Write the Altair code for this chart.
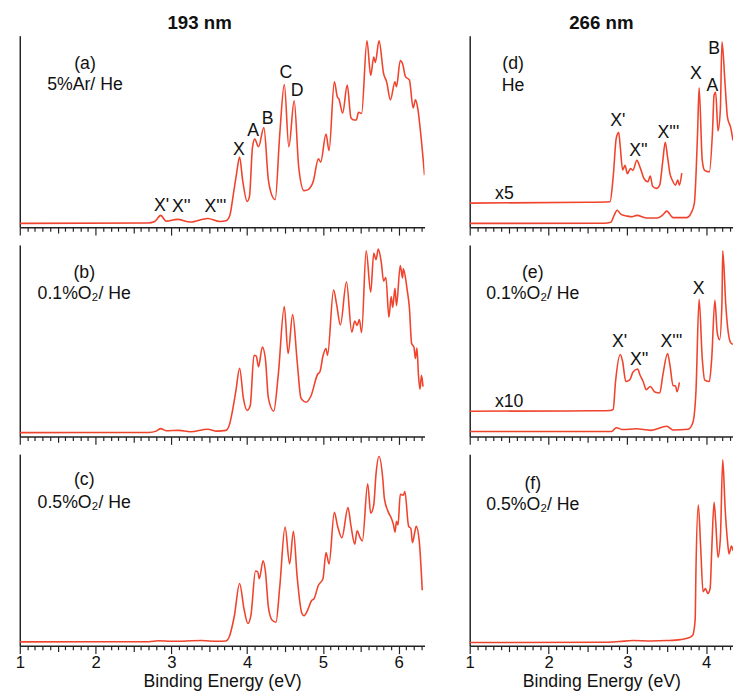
import altair as alt
import pandas as pd

# ---------------- data (binding energy eV, relative intensity) ----------------
# 193 nm
spec_a = [(1.00, 2.0), (2.69, 2.2), (2.78, 3.0), (2.86, 6.2), (2.93, 3.2), (3.08, 4.1), (3.25, 2.7),
          (3.48, 4.6), (3.64, 3.0), (3.72, 3.4), (3.77, 6.0), (3.82, 17.8), (3.86, 28.0), (3.90, 36.6),
          (3.94, 24.6), (4.00, 13.5), (4.03, 16.0), (4.07, 41.7), (4.10, 46.0), (4.15, 42.0), (4.22, 52.0),
          (4.28, 24.6), (4.31, 18.6), (4.37, 14.4), (4.43, 48.6), (4.49, 74.5), (4.55, 42.0), (4.62, 66.0),
          (4.68, 31.4), (4.75, 19.1), (4.81, 19.8), (4.87, 23.7), (4.94, 35.7), (4.97, 34.0), (5.04, 48.6),
          (5.08, 40.0), (5.15, 75.9), (5.19, 68.0), (5.21, 67.0), (5.26, 59.6), (5.32, 74.2), (5.37, 57.0),
          (5.41, 56.0), (5.44, 56.0), (5.47, 60.0), (5.51, 59.4), (5.58, 97.3), (5.63, 79.3), (5.67, 88.9),
          (5.69, 86.0), (5.74, 97.3), (5.80, 80.2), (5.84, 75.9), (5.89, 66.5), (5.95, 75.9), (5.97, 73.3),
          (6.02, 87.0), (6.05, 85.3), (6.09, 78.5), (6.14, 76.9), (6.19, 62.2), (6.22, 66.5), (6.25, 62.2),
          (6.29, 48.7), (6.34, 27.2)]
spec_b = [(1.00, 2.0), (2.70, 2.1), (2.80, 2.8), (2.86, 4.1), (2.93, 3.0), (3.10, 3.2), (3.25, 2.5),
          (3.48, 3.8), (3.60, 2.8), (3.72, 3.2), (3.76, 5.5), (3.85, 23.5), (3.90, 35.6), (3.95, 20.0),
          (4.00, 13.6), (4.04, 16.0), (4.09, 42.4), (4.12, 42.0), (4.15, 36.4), (4.20, 46.7), (4.24, 40.7),
          (4.28, 20.0), (4.35, 13.2), (4.41, 32.0), (4.49, 67.9), (4.54, 43.3), (4.60, 63.6), (4.66, 39.0),
          (4.71, 20.0), (4.78, 17.9), (4.84, 21.0), (4.93, 32.5), (4.96, 33.8), (5.00, 42.0), (5.04, 45.9),
          (5.06, 42.4), (5.14, 76.5), (5.18, 69.0), (5.23, 58.2), (5.31, 80.6), (5.38, 54.5), (5.42, 60.3),
          (5.45, 58.0), (5.48, 61.0), (5.51, 54.3), (5.57, 97.0), (5.63, 75.4), (5.67, 95.7), (5.70, 92.3),
          (5.73, 97.8), (5.77, 90.7), (5.80, 81.1), (5.83, 83.0), (5.87, 62.2), (5.90, 73.0), (5.92, 67.4),
          (5.95, 77.3), (5.97, 68.3), (6.02, 89.3), (6.05, 82.8), (6.06, 87.5), (6.11, 76.8), (6.14, 67.4),
          (6.17, 48.5), (6.20, 46.7), (6.22, 40.7), (6.24, 46.2), (6.26, 32.0), (6.28, 24.7), (6.30, 32.0),
          (6.32, 26.0)]
spec_c = [(1.00, 2.0), (2.70, 2.1), (2.83, 2.6), (3.00, 2.3), (3.40, 2.7), (3.60, 2.3), (3.72, 2.5),
          (3.76, 4.3), (3.83, 15.4), (3.90, 32.5), (3.96, 18.8), (4.01, 11.6), (4.05, 16.0), (4.11, 39.0),
          (4.14, 38.5), (4.16, 35.0), (4.21, 44.4), (4.24, 39.0), (4.28, 20.2), (4.33, 13.3), (4.38, 12.3),
          (4.43, 30.8), (4.50, 61.9), (4.56, 42.7), (4.61, 59.8), (4.66, 35.7), (4.72, 17.1), (4.75, 15.7),
          (4.80, 18.8), (4.85, 23.6), (4.88, 24.4), (4.94, 31.6), (5.00, 35.0), (5.04, 48.7), (5.08, 42.7),
          (5.15, 69.7), (5.19, 62.9), (5.25, 56.4), (5.33, 72.1), (5.37, 62.4), (5.42, 53.0), (5.45, 60.0),
          (5.49, 56.4), (5.52, 54.7), (5.59, 84.6), (5.63, 69.2), (5.67, 73.5), (5.70, 89.7), (5.74, 98.8),
          (5.79, 86.8), (5.81, 76.9), (5.86, 70.0), (5.91, 65.8), (5.93, 63.2), (5.95, 59.3), (5.97, 65.0),
          (5.99, 63.0), (6.02, 79.0), (6.06, 78.6), (6.08, 80.5), (6.13, 62.4), (6.16, 61.2), (6.18, 53.8),
          (6.21, 59.0), (6.23, 62.4), (6.27, 54.7), (6.31, 29.0)]
# 266 nm
spec_d = [(1.00, 2.0), (2.70, 2.1), (2.79, 2.6), (2.83, 6.0), (2.87, 8.9), (2.92, 6.7), (3.00, 5.8),
          (3.06, 5.5), (3.12, 6.2), (3.25, 4.8), (3.38, 4.8), (3.45, 6.5), (3.50, 8.4), (3.58, 5.0),
          (3.75, 5.0), (3.81, 7.5), (3.85, 12.6), (3.89, 48.5), (3.91, 72.8), (3.95, 34.9), (3.98, 29.7),
          (4.04, 28.9), (4.08, 50.0), (4.10, 69.0), (4.12, 70.4), (4.15, 50.3), (4.18, 62.0), (4.20, 96.8),
          (4.24, 74.4), (4.27, 57.3), (4.31, 52.1), (4.34, 45.3)]
spec_d_x5 = [(1.00, 12.6), (2.50, 13.0), (2.78, 13.3), (2.82, 26.3), (2.86, 46.8), (2.89, 49.4),
             (2.91, 41.9), (2.94, 29.9), (2.97, 32.3), (3.00, 28.0), (3.04, 30.6), (3.07, 29.7),
             (3.12, 34.9), (3.16, 31.4), (3.21, 25.5), (3.26, 23.7), (3.29, 26.7), (3.32, 21.4),
             (3.37, 20.3), (3.41, 22.0), (3.45, 34.9), (3.48, 44.3), (3.51, 36.6), (3.54, 28.0),
             (3.57, 24.6), (3.61, 22.0), (3.64, 24.6), (3.66, 22.0), (3.69, 28.2)]
spec_e = [(1.00, 2.6), (2.80, 2.6), (2.86, 4.6), (2.94, 3.6), (3.11, 4.0), (3.30, 3.2), (3.50, 5.3),
          (3.58, 3.4), (3.77, 3.8), (3.83, 7.2), (3.87, 23.5), (3.91, 71.6), (3.95, 40.7), (3.98, 29.6),
          (4.04, 28.7), (4.07, 40.7), (4.11, 71.1), (4.14, 54.2), (4.17, 50.5), (4.20, 70.0), (4.21, 97.0),
          (4.25, 67.7), (4.28, 54.2), (4.31, 49.0), (4.34, 48.1)]
spec_e_x10 = [(1.00, 13.2), (2.50, 13.4), (2.78, 13.6), (2.82, 14.2), (2.85, 28.7), (2.91, 42.8),
              (2.94, 39.0), (2.98, 28.7), (3.03, 29.5), (3.07, 33.5), (3.13, 35.2), (3.16, 32.1),
              (3.20, 28.7), (3.24, 24.4), (3.29, 26.1), (3.35, 23.2), (3.41, 22.7), (3.45, 32.0),
              (3.51, 43.3), (3.54, 37.3), (3.58, 26.5), (3.61, 26.5), (3.63, 23.4), (3.66, 28.3)]
spec_f = [(1.00, 1.7), (2.70, 1.8), (2.90, 2.2), (3.07, 2.7), (3.30, 2.5), (3.50, 2.7), (3.67, 3.2),
          (3.79, 4.3), (3.83, 5.6), (3.86, 13.7), (3.87, 39.3), (3.90, 73.5), (3.93, 51.3), (3.96, 28.2),
          (3.99, 29.9), (4.02, 27.3), (4.05, 29.9), (4.07, 49.6), (4.10, 74.9), (4.12, 65.0), (4.15, 46.2),
          (4.18, 56.4), (4.21, 97.1), (4.24, 71.8), (4.27, 54.7), (4.29, 47.9), (4.32, 52.1), (4.34, 49.6)]

# annotations: (text, energy, intensity)
labels_a = [("(a)", 1.86, 82.5), ("5%Ar/ He", 1.86, 71.8), ("X'", 2.87, 8.7), ("X''", 3.13, 7.7),
            ("X'''", 3.58, 7.7), ("X", 3.89, 37.9), ("A", 4.08, 47.7), ("B", 4.27, 53.7),
            ("C", 4.51, 77.9), ("D", 4.66, 68.7)]
labels_b = [("(b)", 1.85, 82.5), ("0.1%O₂/ He", 1.85, 71.6)]
labels_c = [("(c)", 1.85, 83.7), ("0.5%O₂/ He", 1.85, 71.8)]
labels_d = [("(d)", 1.55, 82.5), ("He", 1.55, 71.3), ("x5", 1.44, 14.7), ("X'", 2.88, 52.8),
            ("X''", 3.14, 37.4), ("X'''", 3.52, 46.8), ("X", 3.87, 77.6), ("A", 4.08, 71.1),
            ("B", 4.10, 90.4)]
labels_e = [("(e)", 1.80, 82.5), ("0.1%O₂/ He", 1.80, 71.6), ("x10", 1.50, 15.3), ("X'", 2.90, 46.7),
            ("X''", 3.15, 37.3), ("X'''", 3.56, 46.7), ("X", 3.905, 74.2)]
labels_f = [("(f)", 1.80, 81.8), ("0.5%O₂/ He", 1.80, 70.9)]

left_ticks = [round(1 + 0.1 * i, 1) for i in range(54)]
right_ticks = [round(1 + 0.1 * i, 1) for i in range(34)]

# ---------------- styling ----------------
FONT = "Liberation Sans"
RED = "#f0432c"
AXIS_COLOR = "#222222"
H = 195
W_LEFT = 412
W_RIGHT = 268

INT_TEST = "abs(datum.value - round(datum.value)) < 0.01"
HALF_TEST = "abs(datum.value * 2 - round(datum.value * 2)) < 0.01"


def x_axis(ticks, show_labels):
    kw = dict(
        values=ticks,
        grid=False,
        domainColor=AXIS_COLOR,
        domainWidth=1.5,
        tickColor=AXIS_COLOR,
        tickWidth=1.2,
        tickSize={"condition": [{"test": INT_TEST, "value": 8}, {"test": HALF_TEST, "value": 6}], "value": 4},
        labelOverlap=False,
        labelFlush=False,
    )
    if show_labels:
        kw.update(
            labels=True,
            labelExpr=f"{INT_TEST} ? format(datum.value, 'd') : ''",
            labelFont=FONT,
            labelFontSize=17,
            labelColor="#111111",
            labelPadding=1,
            title="Binding Energy (eV)",
            titleFont=FONT,
            titleFontSize=18,
            titleFontWeight="normal",
            titleColor="#111111",
            titlePadding=2,
        )
    else:
        kw.update(labels=False, title=None)
    return alt.Axis(**kw)


y_axis = alt.Axis(title=None, labels=False, ticks=False, grid=False, domainColor=AXIS_COLOR, domainWidth=1.5)


def panel(traces, labels, xmax, width, ticks, show_labels, title=None):
    xenc = alt.X("E:Q", scale=alt.Scale(domain=[1, xmax], nice=False, zero=False), axis=x_axis(ticks, show_labels))
    yenc = alt.Y("I:Q", scale=alt.Scale(domain=[0, 100], nice=False), axis=y_axis)
    layers = []
    for tr in traces:
        df = pd.DataFrame(tr, columns=["E", "I"])
        layers.append(
            alt.Chart(df).mark_line(color=RED, strokeWidth=1.6, clip=True, interpolate="monotone")
            .encode(x=xenc, y=yenc)
        )
    ldf = pd.DataFrame(labels, columns=["t", "E", "I"])
    layers.append(
        alt.Chart(ldf).mark_text(font=FONT, fontSize=18, color="#111111", align="center", baseline="alphabetic")
        .encode(x=xenc, y=yenc, text="t:N")
    )
    ch = alt.layer(*layers).properties(width=width, height=H)
    if title is not None:
        ch = ch.properties(title=title)
    return ch


title_l = alt.TitleParams("193 nm", font=FONT, fontSize=19, fontWeight="bold", color="#111111",
                          anchor="middle", dx=-23, offset=3)
title_r = alt.TitleParams("266 nm", font=FONT, fontSize=19, fontWeight="bold", color="#111111",
                          anchor="middle", offset=3)

pa = panel([spec_a], labels_a, 6.34, W_LEFT, left_ticks, False, title_l)
pb = panel([spec_b], labels_b, 6.34, W_LEFT, left_ticks, False)
pc = panel([spec_c], labels_c, 6.34, W_LEFT, left_ticks, True)
pd_ = panel([spec_d, spec_d_x5], labels_d, 4.34, W_RIGHT, right_ticks, False, title_r)
pe = panel([spec_e, spec_e_x10], labels_e, 4.34, W_RIGHT, right_ticks, False)
pf = panel([spec_f], labels_f, 4.34, W_RIGHT, right_ticks, True)

left = alt.vconcat(pa, pb, pc, spacing=9)
right = alt.vconcat(pd_, pe, pf, spacing=9)

chart = (
    alt.hconcat(left, right, spacing=41)
    .properties(padding={"left": 7, "top": 0, "right": 0, "bottom": 0}, background="white")
    .configure_view(stroke=None)
)

chart.save("out.html", embed_options={"renderer": "svg", "actions": False})
